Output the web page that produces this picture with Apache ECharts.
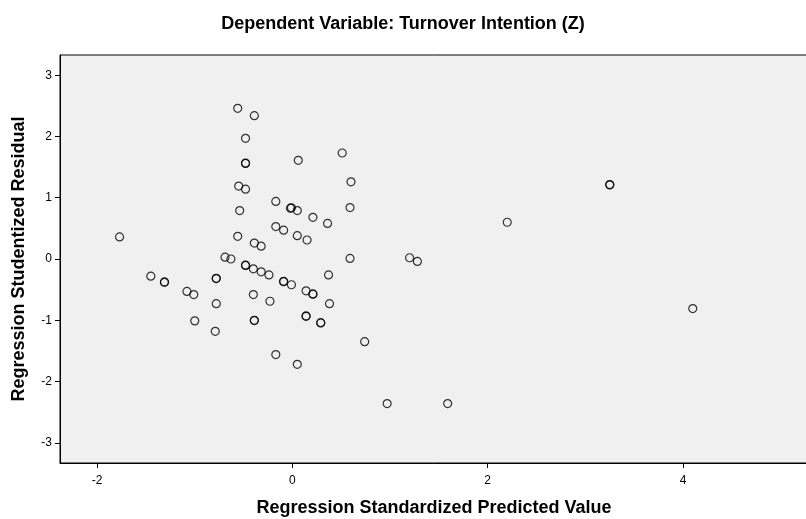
<!DOCTYPE html>
<html>
<head>
<meta charset="utf-8">
<script src="https://cdn.jsdelivr.net/npm/echarts@6/dist/echarts.min.js"></script>
<style>html,body{margin:0;padding:0;background:#fff}#c{width:806px;height:519px}</style>
</head>
<body>
<div id="c"></div>
<script>
const titleText = 'Dependent Variable: Turnover Intention (Z)';
const xTitle = 'Regression Standardized Predicted Value';
const yTitle = 'Regression Studentized Residual';
const xTicks = [-2, 0, 2, 4];
const yTicks = [-3, -2, -1, 0, 1, 2, 3];
const predicted = [
  -1.77, -0.56, -0.39, -0.48, -0.48, -0.48, -0.55, -0.48, -0.54, -0.56, -0.39, -0.32,
  0.06, 0.51, 0.60, 0.59, -0.17, -0.02, -0.01, 0.05, 0.21, 0.36, -0.17, -0.09, 0.05, 0.15,
  2.20, -0.69, -0.63, 0.59, 1.20, 1.28, 3.25, 3.25,
  -1.45, -1.31, -1.31, -1.08, -1.01, -0.78, -0.78, -0.78, -1.00, -0.79,
  -0.48, -0.48, -0.40, -0.32, -0.24, -0.09, -0.09, -0.01, 0.14, 0.21, 0.21, 0.37, 0.38,
  -0.40, -0.23, -0.39, -0.39, 0.14, 0.14, 0.29, 0.29, 0.74, -0.17, 0.05, 0.97, 1.59, 4.10
];
const residual = [
  0.36, 2.46, 2.34, 1.97, 1.56, 1.565, 1.19, 1.14, 0.79, 0.37, 0.26, 0.21,
  1.61, 1.73, 1.26, 0.84, 0.94, 0.83, 0.835, 0.79, 0.68, 0.58, 0.53, 0.47, 0.38, 0.31,
  0.60, 0.03, 0.00, 0.01, 0.02, -0.04, 1.21, 1.215,
  -0.28, -0.38, -0.375, -0.53, -0.58, -0.32, -0.315, -0.73, -1.01, -1.18,
  -0.10, -0.105, -0.16, -0.21, -0.26, -0.37, -0.365, -0.42, -0.52, -0.57, -0.575, -0.26, -0.73,
  -0.58, -0.69, -1.00, -1.005, -0.93, -0.935, -1.04, -1.045, -1.35, -1.56, -1.72, -2.36, -2.36, -0.81
];
const points = predicted.map((x, i) => [x, residual[i]]);

const chart = echarts.init(document.getElementById('c'), null, {renderer: 'canvas'});
const font = 'Liberation Sans, Arial, sans-serif';
chart.setOption({
  animation: false,
  backgroundColor: '#ffffff',
  title: {
    text: titleText, left: 'center', top: 10,
    textStyle: {fontFamily: font, fontSize: 18, fontWeight: 'bold', color: '#000'}
  },
  grid: {
    left: 60, right: -2, top: 55, bottom: 56,
    outerBoundsMode: 'none', containLabel: false,
    show: true, backgroundColor: '#f0f0f0', borderColor: '#000', borderWidth: 1
  },
  xAxis: {
    type: 'value', min: -2.38, max: 5.28,
    name: xTitle, nameLocation: 'middle', nameGap: 36,
    nameTextStyle: {fontFamily: font, fontSize: 18, fontWeight: 'bold', color: '#000'},
    axisLine: {show: true, onZero: false, lineStyle: {color: '#000', width: 1}},
    axisTick: {show: true, length: 5, customValues: xTicks, lineStyle: {color: '#000'}},
    axisLabel: {customValues: xTicks, fontFamily: font, fontSize: 12, color: '#000', margin: 12},
    splitLine: {show: false}
  },
  yAxis: {
    type: 'value', min: -3.33, max: 3.33,
    name: yTitle, nameLocation: 'middle', nameGap: 32, nameRotate: 90,
    nameTextStyle: {fontFamily: font, fontSize: 18, fontWeight: 'bold', color: '#000'},
    axisLine: {show: true, onZero: false, lineStyle: {color: '#000', width: 1}},
    axisTick: {show: true, length: 5, customValues: yTicks, lineStyle: {color: '#000'}},
    axisLabel: {customValues: yTicks, fontFamily: font, fontSize: 12, color: '#000', margin: 8},
    splitLine: {show: false}
  },
  series: [{
    type: 'scatter',
    data: points,
    symbol: 'circle',
    symbolSize: 8,
    itemStyle: {color: 'rgba(0,0,0,0)', borderColor: '#000', borderWidth: 1.2}
  }]
});
</script>
</body>
</html>
